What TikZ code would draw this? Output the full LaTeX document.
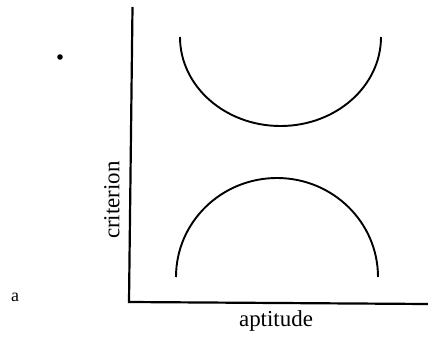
\documentclass[tikz,border=0pt]{standalone}
\usepackage{fontspec}
\setmainfont{Liberation Serif}
\begin{document}
\begin{tikzpicture}[x=1bp,y=-1bp,
  axis/.style={line width=2.2bp},
  curve/.style={line width=1.9bp},
  lbl/.style={font=\fontsize{23}{26}\selectfont, inner sep=0pt}]
\useasboundingbox (0,0) rectangle (428,343);
\coordinate (top) at (132.5,7);
\coordinate (origin) at (129,302);
\coordinate (right) at (428,304);
\draw[axis] (top) -- (origin) -- (right);
\coordinate (ua) at (180,37);
\draw[curve] (ua) arc[start angle=180, end angle=0, x radius=100.5, y radius=89];
\coordinate (la) at (176,277);
\draw[curve] (la) arc[start angle=180, end angle=360, x radius=101, y radius=99];
\node[lbl, rotate=90] (ylab) at (112,200) {criterion};
\node[lbl] (xlab) at (276,321) {aptitude};
\node[lbl, font=\fontsize{18}{20}\selectfont] (alab) at (15,297) {a};
\fill (60,57) circle[radius=2.8bp];
\end{tikzpicture}
\end{document}
